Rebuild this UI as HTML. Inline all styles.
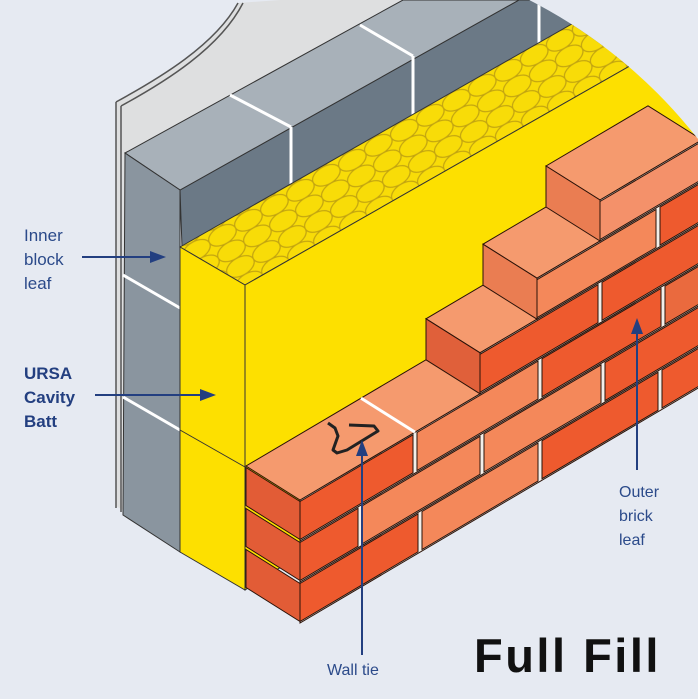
<!DOCTYPE html>
<html><head><meta charset="utf-8"><style>
html,body{margin:0;padding:0;background:#e6eaf2;}
svg{display:block}
.lb{font-family:"Liberation Sans",sans-serif;font-size:17px;fill:#2b4a8a;}
.bd{font-weight:bold;fill:#233f80;}
</style></head><body>
<svg id="s" width="698" height="699" viewBox="0 0 698 699" xmlns="http://www.w3.org/2000/svg">
<defs>
<clipPath id="cc"><circle cx="300" cy="450" r="505"/></clipPath>
<pattern id="hat" width="30" height="18" patternUnits="userSpaceOnUse" patternTransform="rotate(-30)">
<rect width="30" height="18" fill="#f8dc08"/>
<ellipse cx="15" cy="9" rx="15" ry="9" fill="none" stroke="#c2a410" stroke-width="1.2"/>
</pattern>
</defs>
<rect width="698" height="699" fill="#e6eaf2"/>
<g clip-path="url(#cc)">
<path d="M116,102 C160,78 215,45 238,3 L420,-10 L125,153 L123,510 L116,506 Z" fill="#dedfe0"/>
<path d="M116,102 C160,78 215,45 238,3" fill="none" stroke="#555" stroke-width="1.5"/>
<path d="M121,106 C165,82 220,48 243,3" fill="none" stroke="#555" stroke-width="1.5"/>
<line x1="116" y1="102" x2="116" y2="508" stroke="#555" stroke-width="1.5"/>
<line x1="121" y1="106" x2="121" y2="512" stroke="#555" stroke-width="1.5"/>
<polygon points="180,190 519,0 698,0 698,0 182,247" fill="#6b7986" stroke="#333" stroke-width="1"/>
<polygon points="125,153 403,0 519,0 180,190" fill="#a8b1b9" stroke="#333" stroke-width="1"/>
<polygon points="125,153 180,190 180,552 123,515" fill="#8a959f" stroke="#333" stroke-width="1"/>
<g stroke="#fff" stroke-width="3">
<line x1="230" y1="95" x2="291" y2="127"/><line x1="360" y1="25" x2="413" y2="56"/>
<line x1="291" y1="127" x2="291" y2="200"/><line x1="413" y1="56" x2="413" y2="130"/><line x1="539" y1="-10" x2="539" y2="60"/>
<line x1="123" y1="275" x2="180" y2="308"/><line x1="123" y1="397" x2="180" y2="430"/>
</g>
<polygon points="180,247 700,-49 700,26 245,285" fill="url(#hat)" stroke="#333" stroke-width="1"/>
<polygon points="245,285 700,26 700,300 245,590" fill="#fde000" stroke="#333" stroke-width="1"/>
<polygon points="180,247 245,285 245,590 180,552" fill="#fde000" stroke="#333" stroke-width="1"/>
<line x1="180" y1="430" x2="245" y2="467" stroke="#333" stroke-width="1"/>
<g id="bricks"></g>
<path d="M328,423 L335,428 L338,436 L333,450 L337,453 L347,450 L378,431 L374,426 L349,425" fill="none" stroke="#222" stroke-width="3" stroke-linejoin="round"/>
</g>
<text class="lb" x="24" y="241">Inner</text>
<text class="lb" x="24" y="265">block</text>
<text class="lb" x="24" y="289">leaf</text>
<line x1="82" y1="257" x2="155" y2="257" stroke="#233f80" stroke-width="2"/>
<polygon points="166,257 150,251 150,263" fill="#233f80"/>
<text class="lb bd" x="24" y="379">URSA</text>
<text class="lb bd" x="24" y="403">Cavity</text>
<text class="lb bd" x="24" y="427">Batt</text>
<line x1="95" y1="395" x2="205" y2="395" stroke="#233f80" stroke-width="2"/>
<polygon points="216,395 200,389 200,401" fill="#233f80"/>
<line x1="362" y1="655" x2="362" y2="452" stroke="#233f80" stroke-width="2"/>
<polygon points="362,440 356,456 368,456" fill="#233f80"/>
<text class="lb" x="327" y="675" style="font-size:16px">Wall tie</text>
<line x1="637" y1="470" x2="637" y2="330" stroke="#233f80" stroke-width="2"/>
<polygon points="637,318 631,334 643,334" fill="#233f80"/>
<text class="lb" x="619" y="497" style="font-size:16px">Outer</text>
<text class="lb" x="619" y="521" style="font-size:16px">brick</text>
<text class="lb" x="619" y="545" style="font-size:16px">leaf</text>
<text x="474" y="672" style="font-family:'Liberation Sans',sans-serif;font-weight:bold;font-size:47px;letter-spacing:2.5px" fill="#111">Full Fill</text>
</svg>
<script>
(function(){
var g=document.getElementById('bricks'),NS='http://www.w3.org/2000/svg';
var S=0.59,H=41,DX=-54,DY=-34;
function B(x){return 623-S*(x-300);}
function top(n,x){return B(x)-H*n;}
function poly(pts,fill,sw){var p=document.createElementNS(NS,'polygon');p.setAttribute('points',pts.map(function(a){return a[0].toFixed(1)+','+a[1].toFixed(1)}).join(' '));p.setAttribute('fill',fill);p.setAttribute('stroke','#2a1208');p.setAttribute('stroke-width',sw||1);g.appendChild(p);}
var R='#ee5a2e',L='#f4885a',M='#ea6a3e';
var C=[null,
 {xs:300,xe:702,j:[420,540,660],c:[R,L,R,R]},
 {xs:300,xe:702,j:[360,482,603],c:[R,L,L,R]},
 {xs:300,xe:702,j:[415,540,663],c:[R,L,R,M]},
 {xs:480,xe:702,j:[600],c:[R,R]},
 {xs:537,xe:702,j:[658],c:[L,R]},
 {xs:600,xe:702,j:[],c:['#f4916a']}];
function course(n){
 var c=C[n],t0=top(n,c.xs),b0=top(n-1,c.xs),t1=top(n,c.xe),b1=top(n-1,c.xe);
 poly([[c.xs,t0],[c.xe,t1],[c.xe,b1],[c.xs,b0]],'#f3efe9',0);
 var xs=[c.xs].concat(c.j).concat([c.xe]);
 for(var i=0;i<xs.length-1;i++){
  var a=xs[i]+(i>0?2:0),b=xs[i+1]-(i<xs.length-2?2:0);
  poly([[a,top(n,a)+1.5],[b,top(n,b)+1.5],[b,top(n-1,b)-1.5],[a,top(n-1,a)-1.5]],c.c[i%c.c.length]);
 }
 if(n<=3){poly([[c.xs,t0+1.5],[c.xs,b0-1.5],[c.xs+DX,b0+DY-1.5],[c.xs+DX,t0+DY+1.5]],'#e25c36');}
 else{poly([[c.xs,t0],[c.xs,b0],[c.xs+DX,b0+DY],[c.xs+DX,t0+DY]],n==4?'#e0603a':'#ea7d52');}
}
function topface(n){
 var c=C[n],a=c.xs,t0=top(n,a),t1=top(n,c.xe);
 poly([[a,t0],[c.xe,t1],[c.xe+DX,t1+DY],[a+DX,t0+DY]],'#f59a6e');
}
course(1);course(2);course(3);
topface(3);
var l=document.createElementNS(NS,'line');l.setAttribute('x1',415);l.setAttribute('y1',top(3,415));l.setAttribute('x2',361);l.setAttribute('y2',top(3,415)+DY);l.setAttribute('stroke','#fff');l.setAttribute('stroke-width',3);g.appendChild(l);
topface(4);course(4);
topface(5);course(5);
topface(6);course(6);
})();
</script>
</body></html>
